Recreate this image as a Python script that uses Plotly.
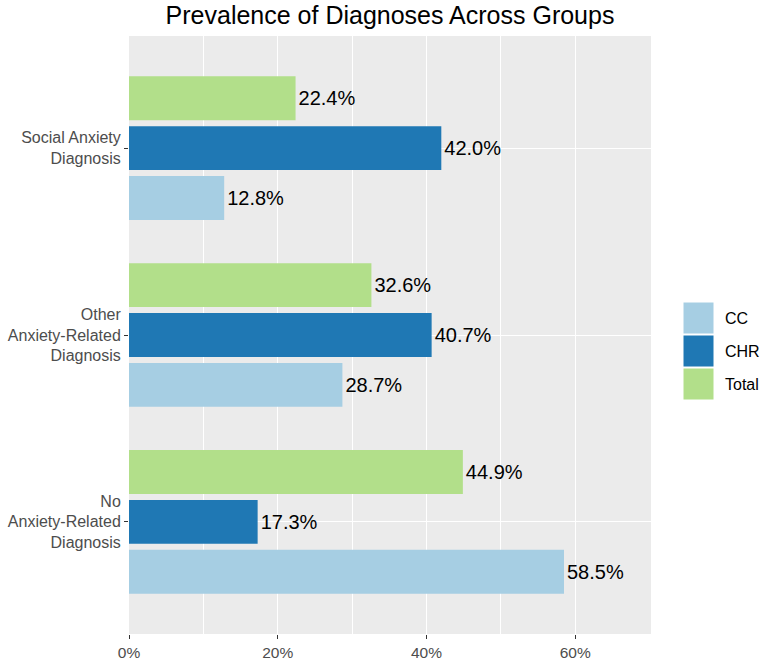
import plotly.graph_objects as go

# ---- data ----
categories = ["No Anxiety-Related Diagnosis", "Other Anxiety-Related Diagnosis", "Social Anxiety Diagnosis"]
category_labels = ["No<br>Anxiety-Related<br>Diagnosis", "Other<br>Anxiety-Related<br>Diagnosis", "Social Anxiety<br>Diagnosis"]
groups = ["CC", "CHR", "Total"]
cc_values = [58.5, 28.7, 12.8]
chr_values = [17.3, 40.7, 42.0]
total_values = [44.9, 32.6, 22.4]
colors = ["#A6CEE3", "#1F78B4", "#B2DF8A"]
x_tickvals = [0, 20, 40, 60]
x_ticktext = ["0%", "20%", "40%", "60%"]

W, H = 764, 661
L, R, T, B = 129, 651, 36, 634

font_fam = "Liberation Sans, Arial, sans-serif"

fig = go.Figure()
for name, vals, col in zip(groups, [cc_values, chr_values, total_values], colors):
    fig.add_trace(go.Bar(
        y=categories, x=vals, name=name, orientation="h",
        marker=dict(color=col, line=dict(width=0)),
        text=[f"{v:.1f}%" for v in vals], textposition="outside",
        textfont=dict(size=20, color="black", family=font_fam),
        cliponaxis=False, showlegend=False,
    ))

fig.update_layout(
    width=W, height=H,
    margin=dict(l=L, r=W - R, t=T, b=H - B, pad=0, autoexpand=False),
    paper_bgcolor="white", plot_bgcolor="#EBEBEB",
    barmode="group", bargap=0.2, bargroupgap=0.12,
    title=dict(text="Prevalence of Diagnoses Across Groups", x=(L + R) / 2 / W, xanchor="center",
               y=1 - 15 / H, yanchor="middle",
               font=dict(size=25, color="black", family=font_fam)),
    font=dict(family=font_fam),
    xaxis=dict(range=[0, 70.2], tickvals=x_tickvals, ticktext=x_ticktext, automargin=False,
               showgrid=True, gridcolor="white", gridwidth=1.1,
               minor=dict(tickvals=[10, 30, 50], showgrid=True, gridcolor="white", gridwidth=0.5),
               ticks="outside", ticklen=4, tickcolor="#333333", tickwidth=1.1,
               tickfont=dict(size=15.5, color="#4D4D4D"), zeroline=False, showline=False, fixedrange=True),
    yaxis=dict(categoryorder="array", categoryarray=categories, range=[-0.6, 2.6], automargin=False,
               tickvals=categories, ticktext=category_labels,
               showgrid=True, gridcolor="white", gridwidth=1.1,
               ticks="outside", ticklen=4, tickcolor="#333333", tickwidth=1.1,
               tickfont=dict(size=16, color="#4D4D4D"), zeroline=False, showline=False),
)

# ---- legend drawn as ggplot-style keys ----
def px_to_paper_x(px):
    return (px - L) / (R - L)

def px_to_paper_y(py):
    return (B - py) / (B - T)

key_x0, key_x1 = 683, 714
key_top = 302
key_h = 32
for i, (name, col) in enumerate(zip(groups, colors)):
    y0 = key_top + i * (key_h + 1)
    fig.add_shape(type="rect", xref="paper", yref="paper",
                  x0=px_to_paper_x(key_x0), x1=px_to_paper_x(key_x1),
                  y0=px_to_paper_y(y0 + key_h), y1=px_to_paper_y(y0),
                  fillcolor=col, line=dict(color="white", width=1), layer="above")
    fig.add_annotation(xref="paper", yref="paper", x=px_to_paper_x(723), y=px_to_paper_y(y0 + key_h / 2),
                       text=name, showarrow=False, xanchor="left", yanchor="middle",
                       font=dict(size=16, color="black", family=font_fam))

fig.write_html("out.html")
